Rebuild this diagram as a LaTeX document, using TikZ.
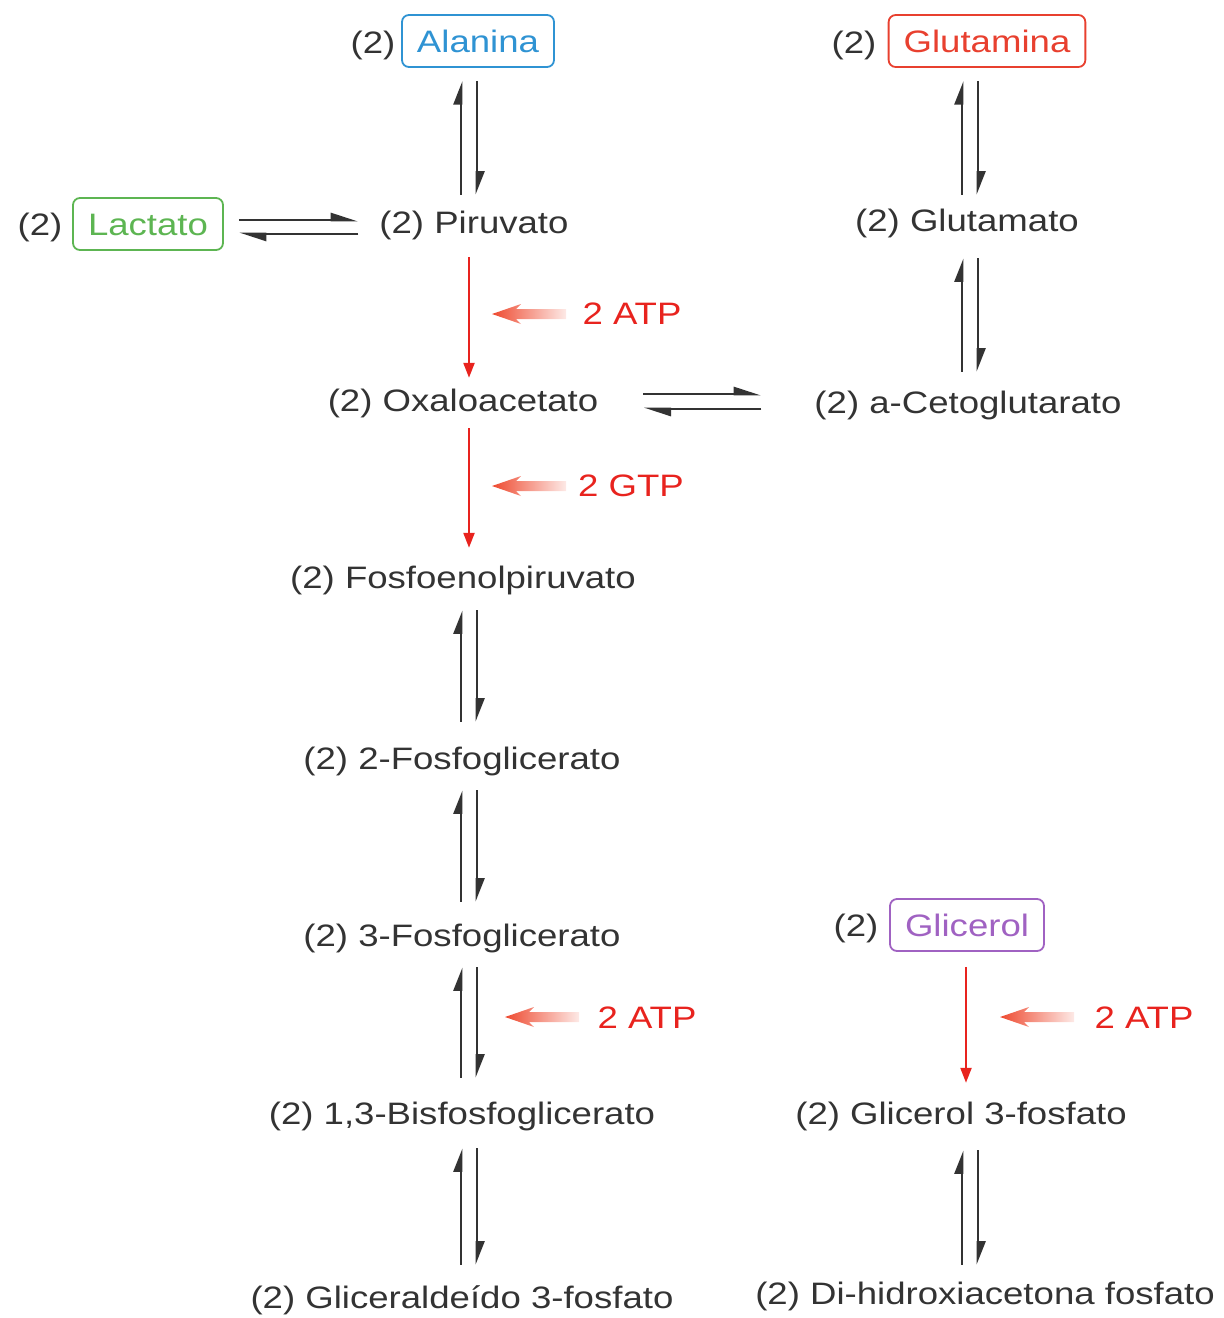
\documentclass[tikz,border=0pt]{standalone}
\usepackage{fontspec}
\setmainfont{Liberation Sans}[FakeStretch=1.18]
\usetikzlibrary{arrows.meta,calc}
\definecolor{txt}{HTML}{333333}
\definecolor{rxn}{HTML}{E8231E}
\definecolor{fat}{HTML}{EE4A30}
\definecolor{ala}{HTML}{2F93D3}
\definecolor{glu}{HTML}{E8402F}
\definecolor{lac}{HTML}{5DB552}
\definecolor{gly}{HTML}{A062C2}

% reversible step: two half-headed arrows side by side
\newcommand\revstep[5]{%
  \draw[eqv, shorten <=#5pt, shorten >=#4pt] ($(#2.north -| #3)+(-8,0)$) -- ($(#1.south -| #3)+(-8,0)$);
  \draw[eqv, shorten <=#4pt, shorten >=#5pt] ($(#1.south -| #3)+(8,0)$) -- ($(#2.north -| #3)+(8,0)$);}
% tapered, fading arrow pointing left to the given tip
\newcommand\energyin[1]{%
  \shade[left color=fat, middle color=fat!90, right color=fat!12]
    (#1) -- ++(29,-10) -- ++(-5,5) -- ++(50,0) -- ++(0,10) -- ++(-50,0) -- ++(5,5) -- cycle;}

\begin{document}
\begin{tikzpicture}[x=1pt,y=-1pt,
  every node/.style={font=\fontsize{31}{36}\selectfont, text=txt, inner sep=0pt,
    text height=26pt, text depth=4pt},
  srcbox/.style={draw=#1, text=#1, rounded corners=7pt, line width=1.8pt,
    inner xsep=15pt, inner ysep=11pt},
  eqv/.style={line width=2.8pt, draw=txt, -{Triangle[left,length=20pt,width=15pt]}},
  eqh/.style={line width=2.8pt, draw=txt, -{Triangle[left,length=23pt,width=14pt]}},
  irr/.style={line width=2.2pt, draw=rxn, -{Triangle[length=15pt,width=11pt]}},
  cost/.style={text=rxn}]
\useasboundingbox (0,0) rectangle (1224,1318);

% column axes
\coordinate (colL) at (469,0);
\coordinate (colR) at (970,0);
\coordinate (colG) at (966,0);

% substrates in boxes
\node (alaN) at (373,42) {(2)};
\node[srcbox=ala] (ala) at (478,41) {Alanina};
\node (gluN) at (854,42) {(2)};
\node[srcbox=glu] (glu) at (987,41) {Glutamina};
\node (lacN) at (40,224) {(2)};
\node[srcbox=lac] (lac) at (148,224) {Lactato};
\node (glyN) at (856,925) {(2)};
\node[srcbox=gly] (gly) at (967,925) {Glicerol};

% intermediates
\node (pir) at (474,222) {(2) Piruvato};
\node (gla) at (967,220) {(2) Glutamato};
\node (oxa) at (463,400) {(2) Oxaloacetato};
\node (akg) at (968,402) {(2) a-Cetoglutarato};
\node (pep) at (463,577) {(2) Fosfoenolpiruvato};
\node (pg2) at (462,758) {(2) 2-Fosfoglicerato};
\node (pg3) at (462,935) {(2) 3-Fosfoglicerato};
\node (bpg) at (462,1113) {(2) 1,3-Bisfosfoglicerato};
\node (gap) at (462,1297) {(2) Gliceraldeído 3-fosfato};
\node (g3p) at (961,1113) {(2) Glicerol 3-fosfato};
\node (dhap) at (985,1293) {(2) Di-hidroxiacetona fosfato};

% energy inputs
\node[cost] (atpA) at (632,313) {2 ATP};
\node[cost] (gtpA) at (631,485) {2 GTP};
\node[cost] (atpB) at (647,1017) {2 ATP};
\node[cost] (atpC) at (1144,1017) {2 ATP};
\coordinate (tipA) at (492,314);
\coordinate (tipB) at (492,486);
\coordinate (tipC) at (505,1017);
\coordinate (tipD) at (1000,1017);
\energyin{tipA}
\energyin{tipB}
\energyin{tipC}
\energyin{tipD}

% reversible steps
\revstep{ala}{pir}{colL}{13}{12}
\revstep{glu}{gla}{colR}{13}{10}
\revstep{gla}{akg}{colR}{23}{15}
\revstep{pep}{pg2}{colL}{18}{21}
\revstep{pg2}{pg3}{colL}{17}{18}
\revstep{pg3}{bpg}{colL}{17}{20}
\revstep{bpg}{gap}{colL}{20}{17}
\revstep{g3p}{dhap}{colR}{22}{13}

\draw[eqh] ($(lac.east)+(15,-4)$) -- ($(lac.east -| pir.west)+(-21,-4)$);
\draw[eqh] ($(lac.east -| pir.west)+(-21,10)$) -- ($(lac.east)+(15,10)$);
\draw[eqh] ($(oxa.east)+(45,-6)$) -- ($(oxa.east -| akg.west)+(-53,-6)$);
\draw[eqh] ($(oxa.east -| akg.west)+(-53,9)$) -- ($(oxa.east)+(45,9)$);

% irreversible steps
\draw[irr, shorten <=20pt, shorten >=7pt] (pir.south -| colL) -- (oxa.north -| colL);
\draw[irr, shorten <=13pt, shorten >=14pt] (oxa.south -| colL) -- (pep.north -| colL);
\draw[irr, shorten <=15pt, shorten >=15pt] (gly.south -| colG) -- (g3p.north -| colG);
\end{tikzpicture}
\end{document}
